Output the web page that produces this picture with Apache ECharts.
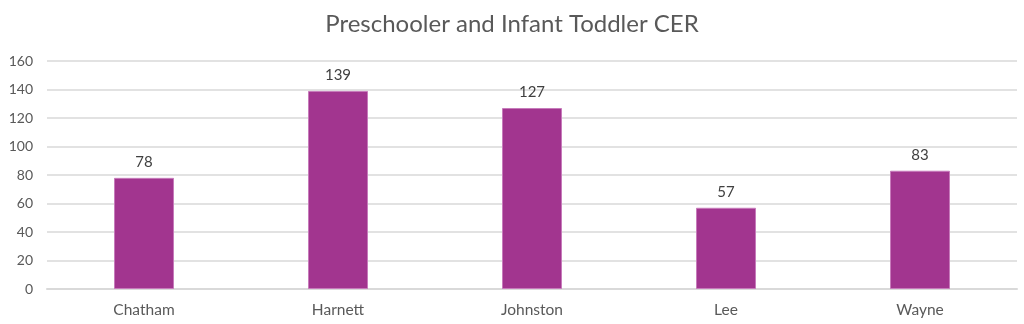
<!DOCTYPE html>
<html><head><meta charset="utf-8">
<script src="https://cdn.jsdelivr.net/npm/echarts@6/dist/echarts.min.js"></script>
<style>html,body{margin:0;padding:0;background:#fff}#c{width:1024px;height:324px}</style>
</head><body><div id="c"></div>
<script>
const categories = ["Chatham", "Harnett", "Johnston", "Lee", "Wayne"];
const values = [78, 139, 127, 57, 83];
const chart = echarts.init(document.getElementById('c'), null, {renderer: 'canvas'});
chart.setOption({
  animation: false,
  title: {
    text: 'Preschooler and Infant Toddler CER',
    left: 'center', top: 7,
    textStyle: {fontFamily: 'Lato', fontWeight: 'normal', fontSize: 24, color: '#595959'}
  },
  grid: {left: 47, right: 7, top: 61, bottom: 35},
  xAxis: {
    type: 'category', data: categories,
    axisLine: {lineStyle: {color: '#d9d9d9', width: 2}},
    axisTick: {show: false},
    axisLabel: {fontFamily: 'Lato', fontSize: 15.5, color: '#595959', margin: 13}
  },
  yAxis: {
    type: 'value', min: 0, max: 160, interval: 20,
    axisLine: {show: false}, axisTick: {show: false},
    splitLine: {lineStyle: {color: '#d9d9d9', width: 1.5}},
    axisLabel: {fontFamily: 'Lato', fontSize: 14, color: '#595959', margin: 14}
  },
  series: [{
    type: 'bar', data: values, barWidth: 60,
    itemStyle: {color: '#A2358F', borderColor: '#c77bbb', borderWidth: 1},
    label: {show: true, position: 'top', distance: 8, fontFamily: 'Lato', fontSize: 15, color: '#404040'}
  }]
});
</script></body></html>
